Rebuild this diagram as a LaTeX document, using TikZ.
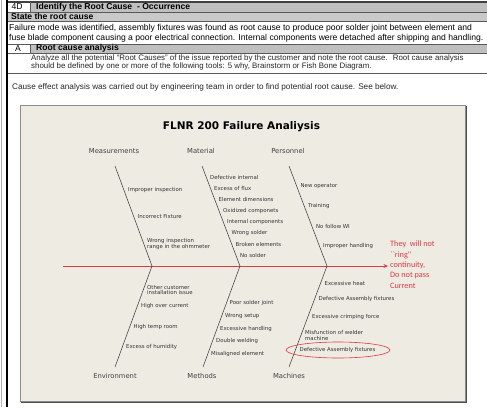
\documentclass[tikz,border=0pt]{standalone}
\usepackage{fontspec}
\setmainfont{Liberation Sans}
\newfontfamily\fbfont{DejaVu Sans}
\newfontfamily\redfont{Carlito}
\usetikzlibrary{arrows.meta}
\definecolor{rowgray}{HTML}{BFBFBF}
\definecolor{rowgraylt}{HTML}{C9C9C9}
\definecolor{panel}{HTML}{EEEBE3}
\definecolor{fbred}{HTML}{E5383F}
\tikzset{
  tline/.style={draw=black!65, line width=0.6pt},
  ttext/.style={anchor=west, inner sep=0, font=\fontsize{8.6}{10}\selectfont},
  tbold/.style={anchor=west, inner sep=0, font=\bfseries\fontsize{8.6}{10}\selectfont},
  tsmall/.style={anchor=west, inner sep=0, font=\fontsize{7.9}{9}\selectfont, text=black!85},
  cause/.style={anchor=west, inner sep=0, align=left, font=\fbfont\fontsize{5.4}{5.9}\selectfont, text=black!80},
  cat/.style={inner sep=0, font=\fbfont\fontsize{6.8}{8}\selectfont, text=black!75},
  bone/.style={draw=black!80, line width=0.5pt},
}
\begin{document}
\begin{tikzpicture}[x=1pt, y=-1pt]
\useasboundingbox (0,0) rectangle (487,407);
\fill[white] (0,0) rectangle (487,407);

% ---- form header table ----
\fill[rowgray]   (8,2) rectangle (487,12);
\fill[white]     (8,2) rectangle (30,12);
\fill[rowgraylt] (8,12) rectangle (487,21);
\fill[rowgray]   (8,44) rectangle (487,53);
\fill[white]     (8,44) rectangle (30,53);
\draw[draw=black!75, line width=1.2pt] (7,2) -- (487,2);
\draw[tline] (8,12) -- (487,12);
\draw[tline] (8,21) -- (487,21);
\draw[tline] (8,44) -- (487,44);
\draw[tline] (8,53) -- (487,53);
\draw[tline] (8,73) -- (487,73);
\draw[tline] (30,2) -- (30,12);
\draw[tline] (30,44) -- (30,53);
\draw[black!30, line width=0.5pt] (1.5,0) -- (1.5,407);
\draw[black, line width=1.6pt] (7,0) -- (7,407);

\node[ttext] (hd4d) at (11.5,7) {4D};
\node[tbold] (hdtitle) at (36,7) {Identify the Root Cause \ - Occurrence};
\node[tbold] (hdstate) at (11,16.5) {State the root cause};
\node[ttext] (hdfail1) at (9,28.5) {Failure mode was identified, assembly fixtures was found as root cause to produce poor solder joint between element and};
\node[ttext] (hdfail2) at (9,38) {fuse blade component causing a poor electrical connection. Internal components were detached after shipping and handling.};
\node[ttext] (hda) at (15,48.5) {A};
\node[tbold] (hdrca) at (36,48.5) {Root cause analysis};
\node[tsmall] (hdan1) at (31,58.5) {Analyze all the potential ``Root Causes'' of the issue reported by the customer and note the root cause. \ Root cause analysis};
\node[tsmall] (hdan2) at (31,66.5) {should be defined by one or more of the following tools: 5 why, Brainstorm or Fish Bone Diagram.};
\node[ttext, font=\fontsize{8.2}{9}\selectfont, text=black!85] (hdcause) at (12,87) {Cause effect analysis was carried out by engineering team in order to find potential root cause. See below.};

% ---- fishbone panel ----
\draw[black!70, line width=1pt] (21,106) -- (466,106) -- (466,402) -- (21,402);
\fill[panel] (20,105) rectangle (465,401);
\draw[black!45, line width=0.6pt] (20,105) rectangle (465,401);

\node[inner sep=0, font=\fbfont\bfseries\fontsize{10.5}{12}\selectfont] (fbtitle) at (241.5,127) {FLNR 200 Failure Analiysis};

\node[cat] (cmeas) at (114,151) {Measurements};
\node[cat] (cmat)  at (201,151) {Material};
\node[cat] (cpers) at (288,151) {Personnel};
\node[cat] (cenv)  at (115,376) {Environment};
\node[cat] (cmeth) at (202,376) {Methods};
\node[cat] (cmach) at (289,376) {Machines};

\coordinate (tail) at (63,266);
\coordinate (head) at (388,266);
\coordinate (j1) at (152,266);
\coordinate (j2) at (240,266);
\coordinate (j3) at (327,266);
\coordinate (bmeas) at (115,166);
\coordinate (bmat)  at (202,166);
\coordinate (bpers) at (289,166);
\coordinate (benv)  at (115,367);
\coordinate (bmeth) at (203,367);
\coordinate (bmach) at (289,367);

\draw[fbred, line width=0.7pt, -{Stealth[length=4.5pt, width=4pt]}] (tail) -- (head);
\draw[bone] (bmeas) -- (j1) -- (benv);
\draw[bone] (bmat) -- (j2) -- (bmeth);
\draw[bone] (bpers) -- (j3) -- (bmach);

% causes: measurements
\node[cause] (m1) at (128,190) {Improper inspection};
\node[cause] (m2) at (137.5,216) {Incorrect Fixture};
\node[cause] (m3) at (147,244) {Wrong inspection\\range in the ohmmeter};
% causes: material
\node[cause] (a1) at (210,177) {Defective internal};
\node[cause] (a2) at (214,188) {Excess of flux};
\node[cause] (a3) at (218.5,199) {Element dimensions};
\node[cause] (a4) at (223,211) {Oxidized componets};
\node[cause] (a5) at (227,222) {Internal components};
\node[cause] (a6) at (231.5,233) {Wrong solder};
\node[cause] (a7) at (235.5,244) {Broken elements};
\node[cause] (a8) at (240,255) {No solder};
% causes: personnel
\node[cause] (p1) at (300.5,186) {New operator};
\node[cause] (p2) at (308,206) {Training};
\node[cause] (p3) at (316,226) {No follow WI};
\node[cause] (p4) at (323,246) {Improper handling};
% causes: environment
\node[cause] (e1) at (147,290) {Other customer\\installation issue};
\node[cause] (e2) at (141,306) {High over current};
\node[cause] (e3) at (133.5,327) {High temp room};
\node[cause] (e4) at (126,347) {Excess of humidity};
% causes: methods
\node[cause] (t1) at (229.5,303) {Poor solder joint};
\node[cause] (t2) at (225,316) {Wrong setup};
\node[cause] (t3) at (220,329) {Excessive handling};
\node[cause] (t4) at (216,341) {Double welding};
\node[cause] (t5) at (211,354) {Misaligned element};
% causes: machines
\node[cause] (k1) at (324.5,283) {Excessive heat};
\node[cause] (k2) at (318.5,299) {Defective Assembly fixtures};
\node[cause] (k3) at (312,317) {Excessive crimping force};
\node[cause] (k4) at (305,335.5) {Misfunction of welder\\machine};
\node[cause] (k5) at (299.5,350) {Defective Assembly fixtures};
\draw[fbred, line width=0.6pt] (338,350) ellipse [x radius=52pt, y radius=8pt];

\node[anchor=north west, inner sep=0, align=left, text=fbred,
      font=\redfont\fontsize{8.2}{10.3}\selectfont] (effect) at (390,241)
  {They \ will not\\``ring''\\continuity,\\Do not pass\\Current};
\end{tikzpicture}
\end{document}
